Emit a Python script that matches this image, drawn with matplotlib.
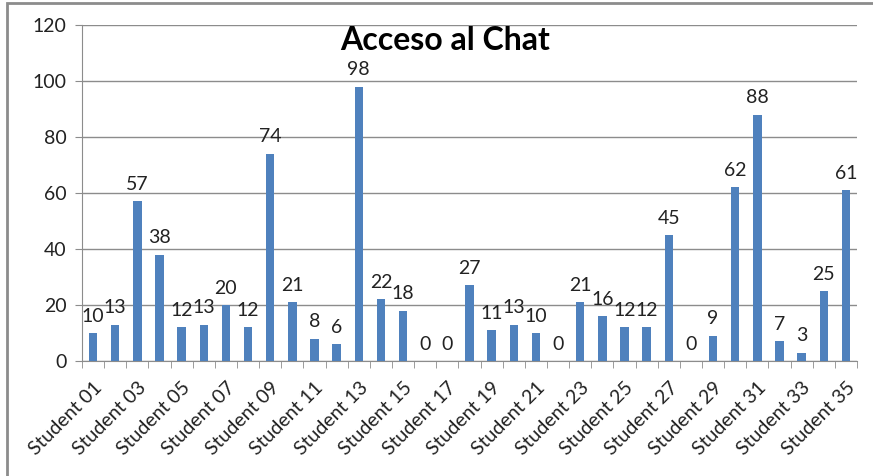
import matplotlib
matplotlib.use("Agg")
import matplotlib.pyplot as plt
from matplotlib.patches import Rectangle
import numpy as np

students = [f"Student {i:02d}" for i in range(1, 36)]
values = [10, 13, 57, 38, 12, 13, 20, 12, 74, 21, 8, 6, 98, 22, 18, 0, 0, 27,
          11, 13, 10, 0, 21, 16, 12, 12, 45, 0, 9, 62, 88, 7, 3, 25, 61]
yticks = [0, 20, 40, 60, 80, 100, 120]
title = "Acceso al Chat"

plt.rcParams['font.family'] = ['Lato', 'DejaVu Sans']

W, H = 873, 476
fig = plt.figure(figsize=(W / 100, H / 100), dpi=100)
fig.patches.append(Rectangle((7 / W, -0.1), 1.2, 1 - 3 / H + 0.1, transform=fig.transFigure,
                             fill=False, edgecolor='#8c8c8c', linewidth=2))
ax = fig.add_axes([82 / W, 1 - 361 / H, (857 - 82) / W, (361 - 25) / H])

x = np.arange(len(values))
ax.bar(x, values, width=0.38, color='#4F81BD', zorder=3)
for xi, v in zip(x, values):
    ax.annotate(str(v), (xi, v), xytext=(0, 6), textcoords='offset points',
                ha='center', va='bottom', fontsize=14, color='#222222')

ax.set_xlim(-0.5, len(values) - 0.5)
ax.set_ylim(0, 120)
ax.set_yticks(yticks)
ax.set_yticklabels([str(t) for t in yticks], fontsize=14, color='#222222')
ax.grid(axis='y', color='#8c8c8c', linewidth=1, zorder=0)

ax.set_xticks(x[::2])
ax.set_xticklabels(students[::2], rotation=45, ha='right', va='top',
                   rotation_mode='anchor', fontsize=14, color='#222222')
ax.set_xticks(np.arange(-0.5, len(values)), minor=True)
ax.tick_params(axis='x', which='major', length=0, pad=13)
ax.tick_params(axis='x', which='minor', length=5, color='#8c8c8c')
ax.tick_params(axis='y', length=5, color='#8c8c8c', pad=6)

for s in ['top', 'right']:
    ax.spines[s].set_visible(False)
for s in ['left', 'bottom']:
    ax.spines[s].set_color('#8c8c8c')

fig.text(445 / W, 1 - 40 / H, title, ha='center', va='center', fontsize=23,
         fontweight='bold', color='black')

fig.savefig("out.png", dpi=100)
